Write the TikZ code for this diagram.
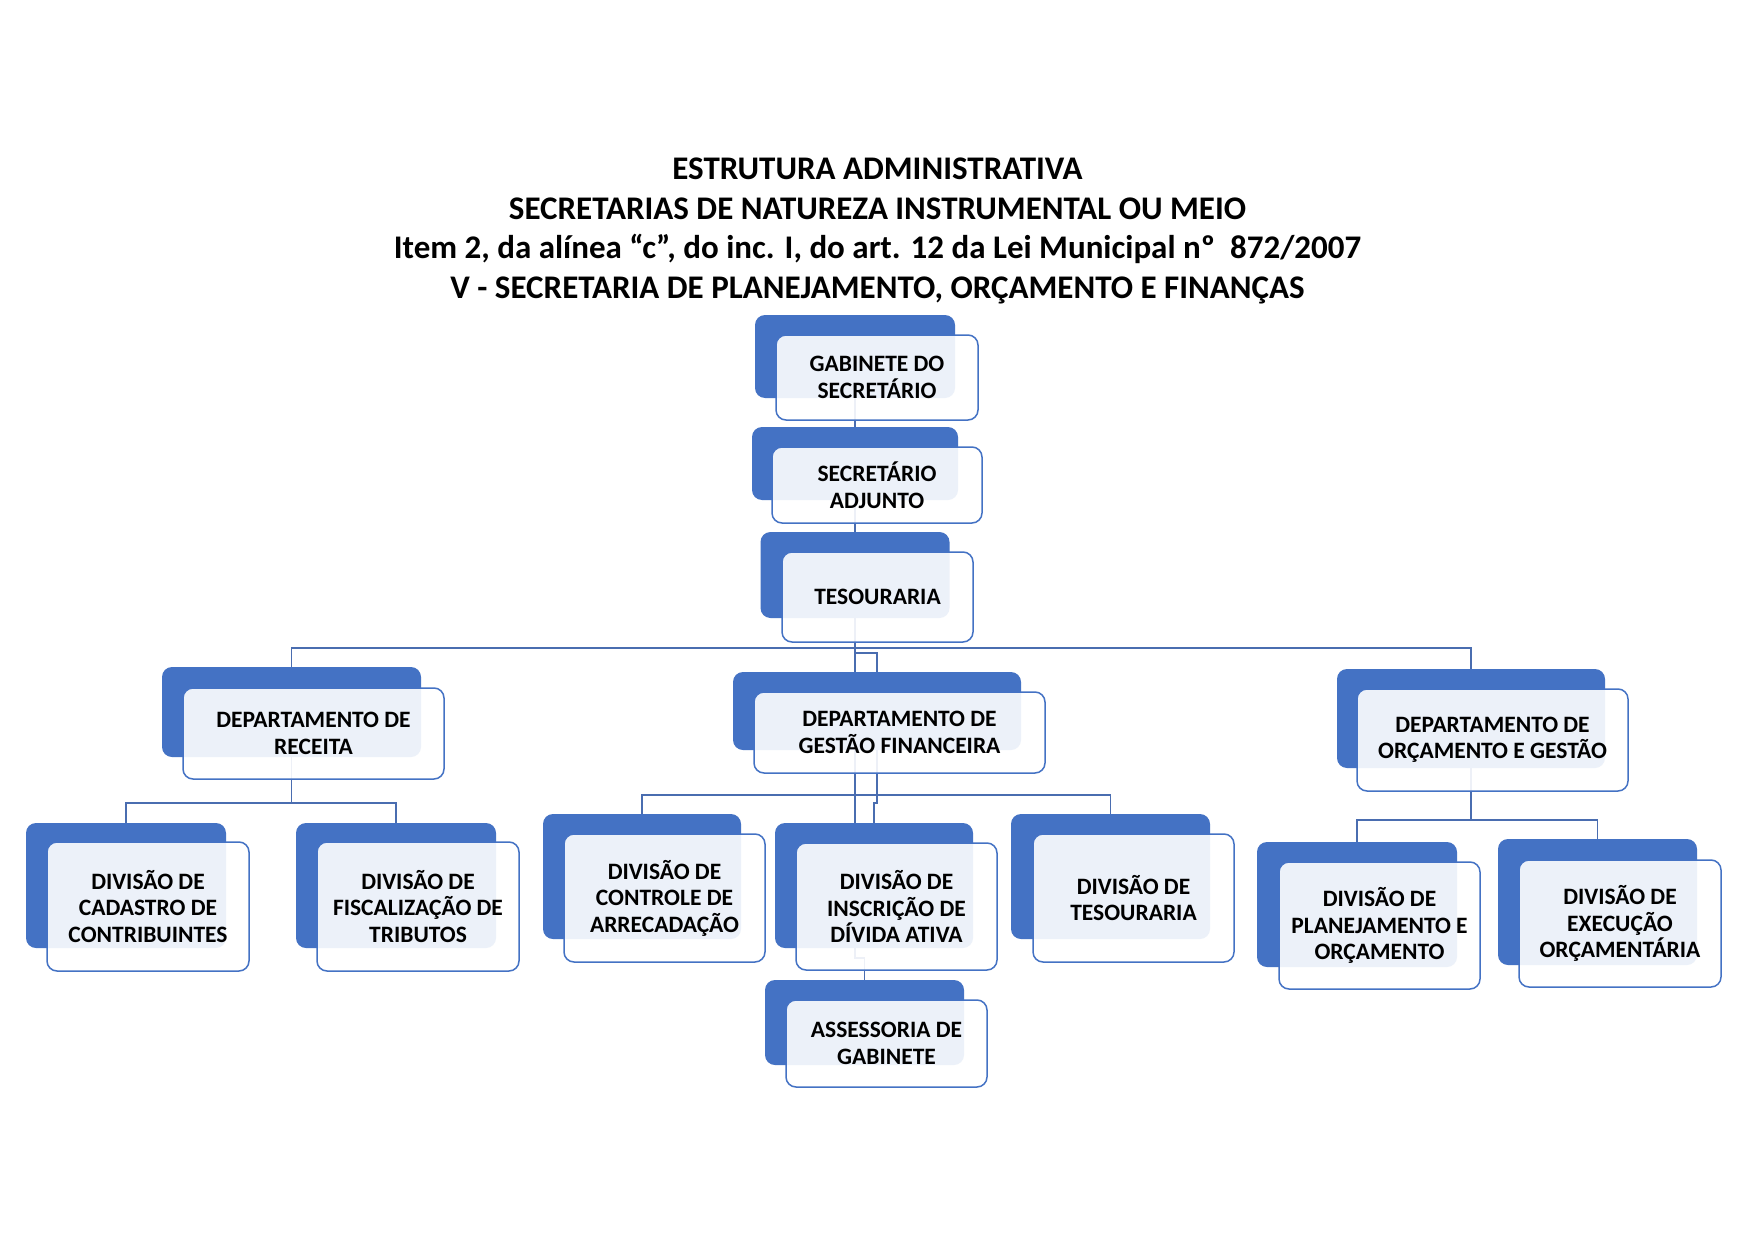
\documentclass[tikz,border=0pt]{standalone}
\usepackage{fontspec}
\setmainfont{Carlito}
\definecolor{cblue}{HTML}{4472C4}
\definecolor{lblue}{HTML}{4A6DB0}
\pgfdeclarelayer{bg}
\pgfdeclarelayer{paper}
\pgfsetlayers{paper,bg,main}
\begin{document}
\begin{tikzpicture}[x=1pt,y=-1pt,
  bluebox/.style={fill=cblue, draw=none, rounded corners=10pt, inner sep=0pt},
  frontbox/.style={fill=white, fill opacity=0.9, text opacity=1, draw=cblue, line width=1.5pt,
    rounded corners=10pt, inner sep=0pt, align=center, text=black,
    font=\bfseries\fontsize{23.5}{26.5}\selectfont},
  conn/.style={draw=lblue, line width=1.6pt},
  titletext/.style={align=center, font=\bfseries\fontsize{33}{39.5}\selectfont, inner sep=0pt}]
\useasboundingbox (0,0) rectangle (1755,1241);
\begin{pgfonlayer}{paper}
\fill[white] (0,0) rectangle (1755,1241);
\end{pgfonlayer}

\node[titletext] (title) at (877.5,231) {ESTRUTURA ADMINISTRATIVA\\
SECRETARIAS DE NATUREZA INSTRUMENTAL OU MEIO\\
Item 2, da alínea “c”, do inc. I, do art. 12 da Lei Municipal nº\ \ 872/2007\\
V - SECRETARIA DE PLANEJAMENTO, ORÇAMENTO E FINANÇAS};

% top chain
\node[bluebox, minimum width=200pt, minimum height=83pt] (gabB) at (855,356.5) {};
\node[frontbox, minimum width=202pt, minimum height=85pt] (gabF) at (877,377.5) {GABINETE DO\\SECRETÁRIO};
\node[bluebox, minimum width=206pt, minimum height=73pt] (adjB) at (855,463.5) {};
\node[frontbox, minimum width=210pt, minimum height=76pt] (adjF) at (877,485) {SECRETÁRIO\\ADJUNTO};
\node[bluebox, minimum width=189pt, minimum height=86pt] (tesB) at (855,575) {};
\node[frontbox, minimum width=191pt, minimum height=90pt] (tesF) at (877.5,597) {TESOURARIA};

% departments
\node[bluebox, minimum width=259pt, minimum height=90pt] (recB) at (291.5,712) {};
\node[frontbox, minimum width=261pt, minimum height=91pt] (recF) at (313.5,733.5) {DEPARTAMENTO DE\\RECEITA};
\node[bluebox, minimum width=288pt, minimum height=78pt] (gesB) at (877,711) {};
\node[frontbox, minimum width=291pt, minimum height=81pt] (gesF) at (899.5,732.5) {DEPARTAMENTO DE\\GESTÃO FINANCEIRA};
\node[bluebox, minimum width=268pt, minimum height=99pt] (orcB) at (1471,718.5) {};
\node[frontbox, minimum width=271pt, minimum height=102pt] (orcF) at (1492.5,740) {DEPARTAMENTO DE\\ORÇAMENTO E GESTÃO};

% divisions
\node[bluebox, minimum width=200pt, minimum height=125pt] (cadB) at (126,885.5) {};
\node[frontbox, minimum width=202pt, minimum height=129pt] (cadF) at (148,906.5) {DIVISÃO DE\\CADASTRO DE\\CONTRIBUINTES};
\node[bluebox, minimum width=200pt, minimum height=125pt] (fisB) at (396,885.5) {};
\node[frontbox, minimum width=202pt, minimum height=129pt] (fisF) at (418,906.5) {DIVISÃO DE\\FISCALIZAÇÃO DE\\TRIBUTOS};
\node[bluebox, minimum width=198pt, minimum height=125pt] (conB) at (642,876.5) {};
\node[frontbox, minimum width=201pt, minimum height=128pt] (conF) at (664.5,898) {DIVISÃO DE\\CONTROLE DE\\ARRECADAÇÃO};
\node[bluebox, minimum width=198pt, minimum height=125pt] (insB) at (874,885.5) {};
\node[frontbox, minimum width=201pt, minimum height=127pt] (insF) at (896.5,906.5) {DIVISÃO DE\\INSCRIÇÃO DE\\DÍVIDA ATIVA};
\node[bluebox, minimum width=199pt, minimum height=125pt] (dtesB) at (1110.5,876.5) {};
\node[frontbox, minimum width=201pt, minimum height=128pt] (dtesF) at (1133.5,898) {DIVISÃO DE\\TESOURARIA};
\node[bluebox, minimum width=199pt, minimum height=85pt] (assB) at (864.5,1022.5) {};
\node[frontbox, minimum width=201pt, minimum height=87pt] (assF) at (886.5,1043.5) {ASSESSORIA DE\\GABINETE};
\node[bluebox, minimum width=200pt, minimum height=125pt] (plaB) at (1357,904.5) {};
\node[frontbox, minimum width=201pt, minimum height=127pt] (plaF) at (1379.5,925.5) {DIVISÃO DE\\PLANEJAMENTO E\\ORÇAMENTO};
\node[bluebox, minimum width=199pt, minimum height=126pt] (exeB) at (1597.5,902) {};
\node[frontbox, minimum width=202pt, minimum height=127pt] (exeF) at (1620,923.5) {DIVISÃO DE\\EXECUÇÃO\\ORÇAMENTÁRIA};

\begin{pgfonlayer}{bg}
  \coordinate (bus) at (855,648);
  \coordinate (recbus) at (291.5,803);
  \coordinate (gesbus) at (877,795);
  \coordinate (orcbus) at (1471,820);
  \draw[conn] (gabB.south) -- (adjB.north);
  \draw[conn] (adjB.south) -- (tesB.north);
  \draw[conn] (tesB.south) -- (bus);
  \draw[conn] (recB.north) |- (bus) -| (orcB.north);
  \draw[conn] (bus) -- ++(0,5) -| (gesB.north);
  \draw[conn] (bus) -- (855,958) -| (assB.north);
  % receita
  \draw[conn] (recB.south) -- (recbus);
  \draw[conn] (cadB.north) |- (recbus) -| (fisB.north);
  % gestao
  \draw[conn] (gesB.south) -- (gesbus);
  \draw[conn] (conB.north) |- (gesbus) -| (dtesB.north);
  \draw[conn] (gesbus) -- ++(0,8) -| (insB.north);
  % orcamento
  \draw[conn] (orcB.south) -- (orcbus);
  \draw[conn] (plaB.north) |- (orcbus) -| (exeB.north);
\end{pgfonlayer}
\end{tikzpicture}
\end{document}
